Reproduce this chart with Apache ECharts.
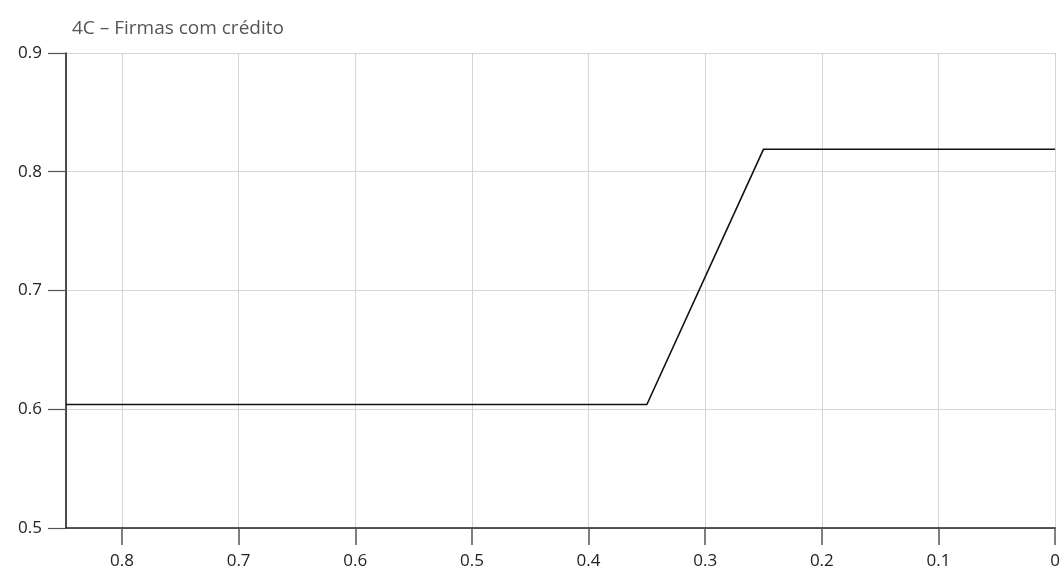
<!DOCTYPE html>
<html><head><meta charset="utf-8">
<script src="https://cdn.jsdelivr.net/npm/echarts@6/dist/echarts.min.js"></script>
<style>html,body{margin:0;padding:0;background:#fff}#c{width:1063px;height:570px}</style>
</head><body><div id="c"></div>
<script>
const title = '4C – Firmas com crédito';
const xValues = [0.848, 0.35, 0.25, 0];
const yValues = [0.604, 0.604, 0.819, 0.819];
const xTicks = [0, 0.1, 0.2, 0.3, 0.4, 0.5, 0.6, 0.7, 0.8];
const yTicks = [0.5, 0.6, 0.7, 0.8, 0.9];

const FONT = '"Open Sans", "Noto Sans", sans-serif';
const chart = echarts.init(document.getElementById('c'), null, {renderer: 'canvas'});
chart.setOption({
  animation: false,
  backgroundColor: '#fff',
  title: {text: title, left: 67, top: 14,
    textStyle: {fontFamily: FONT, fontSize: 19, fontWeight: 'normal', color: '#555'}},
  grid: {left: 66, right: 7, top: 53, bottom: 42, containLabel: false},
  xAxis: {
    type: 'value', inverse: true, min: 0, max: 0.848, interval: 0.1,
    axisLine: {show: true, onZero: false, lineStyle: {color: '#222', width: 1.6}},
    axisTick: {show: true, length: 17, lineStyle: {color: '#555', width: 1.5}},
    axisLabel: {showMaxLabel: false, fontFamily: FONT, fontSize: 17, color: '#222', margin: 25,
      formatter: v => xTicks.some(t => Math.abs(t - v) < 1e-9) ? String(+v.toFixed(1)) : ''},
    splitLine: {show: true, lineStyle: {color: '#d6d6d6', width: 1}}
  },
  yAxis: {
    type: 'value', position: 'left', min: 0.5, max: 0.9, interval: 0.1,
    axisLine: {show: true, onZero: false, lineStyle: {color: '#222', width: 1.6}},
    axisTick: {show: true, length: 18, lineStyle: {color: '#555', width: 1.2}},
    axisLabel: {fontFamily: FONT, fontSize: 17, color: '#222', margin: 24,
      formatter: v => yTicks.some(t => Math.abs(t - v) < 1e-9) ? v.toFixed(1) : ''},
    splitLine: {show: true, lineStyle: {color: '#d6d6d6', width: 1}}
  },
  series: [{
    type: 'line', showSymbol: false, symbol: 'none',
    data: xValues.map((x, i) => [x, yValues[i]]),
    lineStyle: {color: '#111', width: 1.6}
  }]
});
</script></body></html>
